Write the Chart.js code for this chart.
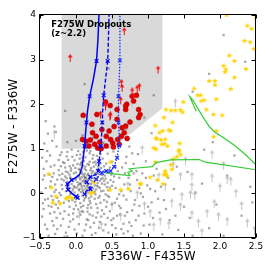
<!DOCTYPE html>
<html>
<head>
<meta charset="utf-8">
<script src="https://cdn.jsdelivr.net/npm/chart.js@4.4.0/dist/chart.umd.min.js"></script>
<style>
  html, body { margin: 0; padding: 0; background: #fff; }
</style>
</head>
<body>
<canvas id="cmd" width="274" height="274"></canvas>
<script>
// colour-colour diagram, F336W-F435W vs F275W-F336W
const xTicks = [-0.5, 0, 0.5, 1, 1.5, 2, 2.5];
const yTicks = [-1, 0, 1, 2, 3, 4];

// dropout selection box
const boxX = [-0.2, -0.2, 0.5, 1.2, 1.2, -0.2];
const boxY = [4.0, 1.0, 1.0, 1.91, 4.0, 4.0];

// model tracks (x markers where mark = 1)
const solidX = [0.32, 0.305, 0.285, 0.24, 0.19, 0.16, 0.145, 0.13, 0.12, 0.10, 0.085, 0.05, 0.01, -0.06, -0.12, -0.11, -0.06, 0.0, 0.02];
const solidY = [4.05, 3.45, 2.97, 2.55, 2.18, 1.85, 1.59, 1.3, 1.06, 0.8, 0.6, 0.42, 0.37, 0.3, 0.21, 0.08, 0.0, -0.07, -0.1];
const solidMark = [0, 0, 1, 0, 1, 0, 1, 0, 1, 0, 0, 0, 0, 1, 1, 1, 0, 1, 1];

const dashX = [0.46, 0.45, 0.44, 0.41, 0.385, 0.37, 0.365, 0.355, 0.345, 0.33, 0.32, 0.31, 0.27, 0.2, 0.15, 0.19, 0.2, 0.14, 0.12];
const dashY = [4.05, 3.45, 2.97, 2.55, 2.2, 1.85, 1.59, 1.3, 1.06, 0.85, 0.72, 0.5, 0.42, 0.37, 0.25, 0.18, 0.1, 0.05, -0.02];
const dashMark = [0, 0, 1, 0, 1, 0, 1, 0, 1, 0, 1, 1, 0, 1, 1, 0, 1, 0, 1];

const dotX = [0.61, 0.61, 0.61, 0.6, 0.59, 0.59, 0.59, 0.6, 0.6, 0.58, 0.57, 0.53, 0.48, 0.42, 0.36, 0.32, 0.28, 0.25];
const dotY = [4.05, 3.45, 2.98, 2.55, 2.18, 1.85, 1.59, 1.3, 1.07, 0.9, 0.8, 0.6, 0.5, 0.5, 0.46, 0.4, 0.32, 0.25];
const dotMark = [0, 0, 1, 0, 1, 0, 1, 0, 1, 0, 1, 1, 1, 1, 1, 0, 1, 0];

const greenAX = [1.67, 1.58, 1.62, 1.75, 1.85, 1.93, 2.05, 2.2, 2.36, 2.5];
const greenAY = [1.84, 2.17, 2.1, 1.75, 1.5, 1.37, 1.25, 1.08, 0.86, 0.64];
const greenBX = [0.41, 0.62, 0.75, 0.72, 0.78, 0.74, 0.85, 1.06, 1.11, 1.31, 1.71, 1.8, 2.5];
const greenBY = [0.46, 0.42, 0.40, 0.47, 0.50, 0.55, 0.57, 0.6, 0.69, 0.75, 0.76, 0.7, 0.53];

// field galaxies
const grayPts = [
  [0.05,0.21],[0.12,0.34],[-0.03,0.45],[0.18,0.08],[0.22,0.27],[-0.08,0.12],[0.09,-0.05],[0.31,0.15],[0.14,0.52],[-0.15,0.38],
  [0.02,0.66],[0.27,0.41],[0.36,0.22],[-0.11,-0.08],[0.07,0.03],[0.19,-0.17],[0.41,0.33],[-0.2,0.19],[0.11,0.73],[0.25,0.6],
  [0.33,-0.06],[-0.05,0.29],[0.16,0.19],[0.04,0.4],[-0.24,0.52],[0.29,0.84],[0.08,0.58],[-0.17,-0.21],[0.45,0.07],[0.21,-0.32],
  [-0.01,-0.19],[0.38,0.49],[0.13,0.11],[-0.09,0.61],[0.24,0.02],[0.06,0.87],[-0.28,0.08],[0.34,0.67],[0.17,0.44],[-0.13,0.83],
  [0.01,0.13],[0.28,-0.24],[0.47,0.58],[-0.21,-0.04],[0.1,-0.28],[0.2,0.95],[-0.06,0.98],[0.39,-0.15],[0.15,0.3],[-0.26,0.31],
  [0.52,0.26],[0.03,-0.36],[0.23,0.5],[-0.14,0.05],[0.09,0.27],[0.3,0.36],[-0.02,0.74],[0.44,0.89],[0.12,-0.11],[-0.32,-0.15],
  [0.18,0.64],[0.35,0.05],[-0.07,0.51],[0.26,0.18],[0.0,0.33],[0.42,-0.3],[-0.18,0.7],[0.14,1.02],[0.07,0.46],[0.32,0.97],
  [-0.1,0.22],[0.49,0.42],[0.21,-0.07],[-0.25,-0.33],[0.05,0.1],[0.37,0.78],[-0.04,-0.45],[0.55,0.12],[0.16,-0.41],[-0.3,0.63],
  [0.11,0.17],[0.27,0.71],[0.04,0.55],[-0.19,0.44],[0.4,0.2],[0.08,0.36],[0.23,-0.5],[-0.12,0.93],[0.58,0.5],[0.19,0.39],
  [-0.35,0.27],[0.01,-0.07],[0.33,0.28],[0.13,0.81],[-0.08,0.36],[0.46,-0.08],[0.25,1.1],[-0.22,0.86],[0.06,-0.22],[0.29,0.53],
  [0.15,0.07],[-0.03,0.16],[0.36,-0.38],[0.1,0.62],[-0.16,-0.4],[0.5,0.71],[0.22,0.14],[-0.27,1.05],[0.03,0.95],[0.43,0.14],
  [0.17,-0.26],[-0.09,-0.3],[0.31,0.44],[0.12,0.24],[-0.01,0.57],[0.6,-0.02],[0.26,-0.12],[-0.2,0.32],[0.08,0.15],[0.39,0.61],
  [0.2,0.31],[-0.13,0.15],[0.05,0.78],[0.34,-0.21],[-0.06,0.04],[0.48,0.3],[0.14,-0.02],[-0.31,0.45],[0.24,0.86],[0.09,0.43],
  [0.18,0.22],[0.02,0.25],[0.28,0.09],[-0.11,0.47],[0.13,0.37],[0.06,0.31],[0.21,0.57],[-0.04,0.09],[0.11,-0.16],[0.3,0.23],
  [0.16,0.66],[-0.15,0.58],[0.37,0.34],[0.0,-0.27],[0.25,0.34],[0.07,0.68],[-0.23,0.01],[0.42,0.48],[0.19,0.12],[0.1,0.05],
  [0.03,0.18],[0.16,0.41],[-0.07,0.33],[0.24,0.11],[0.11,0.29],[-0.02,0.02],[0.29,0.31],[0.08,0.49],[0.19,0.71],[-0.12,0.26],
  [0.35,0.57],[0.04,-0.12],[0.22,0.37],[-0.19,0.1],[0.13,0.6],[0.31,-0.1],[0.06,0.23],[-0.04,0.63],[0.4,0.4],[0.17,0.02],
  [0.26,0.46],[-0.1,-0.17],[0.1,0.93],[0.44,0.24],[-0.16,0.68],[0.02,0.38],[0.33,0.12],[0.2,-0.22],[-0.05,0.82],[0.15,0.16],
  [0.5,0.17],[-0.23,0.41],[0.07,-0.31],[0.28,0.65],[0.12,0.44],[-0.08,-0.02],[0.36,0.41],[0.23,0.78],[-0.29,0.2],[0.05,0.52],
  [0.18,0.33],[0.42,0.67],[-0.14,0.49],[0.09,0.09],[0.3,-0.33],[0.01,0.86],[0.25,0.25],[-0.21,0.61],[0.14,-0.08],[0.38,0.06],
  [0.11,0.39],[-0.06,0.21],[0.2,0.52],[0.46,0.46],[-0.01,0.31],[0.27,-0.02],[0.08,0.71],[-0.17,0.29],[0.32,0.74],[0.16,-0.33],
  [0.04,0.07],[0.22,0.45],[-0.11,0.75],[0.35,0.32],[0.13,0.26],[-0.03,-0.35],[0.53,0.38],[0.19,0.9],[-0.26,-0.1],[0.07,0.2],
  [0.29,0.17],[0.1,-0.41],[-0.09,0.42],[0.41,-0.02],[0.24,0.69],[0.0,0.47],[0.17,0.13],[-0.2,0.92],[0.34,0.88],[0.06,0.64],
  [0.14,0.34],[0.26,0.04],[-0.13,0.34],[0.09,0.8],[0.39,0.28],[0.03,-0.03],[0.21,0.21],[-0.07,0.56],[0.47,0.13],[0.12,0.55],
  [-0.33,0.37],[0.18,-0.11],[0.31,0.6],[0.05,0.35],[-0.24,0.75],[0.28,0.43],[0.15,0.96],[-0.02,0.14],[0.43,-0.19],[0.2,0.05],
  [-0.42,0.12],[-0.38,-0.28],[-0.45,0.55],[-0.36,0.85],[-0.47,-0.52],[-0.4,-0.8],[-0.33,-0.62],[-0.29,-0.91],[-0.44,1.12],[-0.39,1.34],
  [-0.46,0.31],[-0.34,-0.06],[-0.27,-0.55],[-0.21,-0.72],[-0.14,-0.88],[-0.08,-0.63],[-0.02,-0.81],[0.04,-0.69],[0.09,-0.95],[0.15,-0.58],
  [0.2,-0.76],[0.27,-0.89],[0.33,-0.64],[0.38,-0.83],[0.44,-0.55],[0.5,-0.71],[0.56,-0.92],[0.61,-0.47],[0.66,-0.68],[0.72,-0.85],
  [0.78,-0.38],[0.83,-0.6],[0.9,-0.9],[0.95,-0.45],[1.02,-0.7],[0.54,-0.21],[0.62,-0.33],[0.7,-0.14],[0.76,0.05],[0.81,-0.25],
  [0.88,0.12],[0.93,-0.08],[0.67,0.2],[0.73,0.35],[0.85,0.3],[0.64,0.58],[0.7,0.82],[0.8,0.66],[0.92,0.45],[0.99,0.18],
  [1.05,-0.2],[1.1,0.05],[1.16,-0.43],[1.22,-0.15],[1.3,-0.6],[1.36,0.1],[1.42,-0.82],[1.5,-0.3],[1.58,-0.55],[1.66,0.02],
  [-0.3,-0.42],[-0.24,-0.18],[-0.18,-0.57],[-0.1,-0.48],[-0.05,-0.15],[0.02,-0.52],[0.08,-0.4],[0.14,-0.7],[0.19,-0.47],[0.25,-0.66],
  [0.3,-0.43],[0.35,-0.52],[0.41,-0.7],[0.47,-0.4],[0.52,-0.56],[0.57,-0.12],[0.63,-0.8],[0.68,-0.5],[0.74,-0.65],[0.79,-0.95],
  [-0.41,0.72],[-0.37,0.42],[-0.33,1.18],[-0.28,1.38],[-0.43,-0.14],[-0.48,0.02],[-0.36,-0.45],[-0.43,-0.7],[-0.26,-0.8],[-0.12,-0.96],
  [0.0,1.18],[0.09,1.3],[-0.12,1.15],[0.24,1.25],[0.38,1.13],[0.52,0.94],[0.56,1.2],[0.74,1.05],[0.86,0.88],[0.97,0.72],
  [-0.45,-0.35],[-0.38,-0.95],[-0.31,-0.72],[-0.22,-0.45],[-0.16,-0.97],[-0.1,-0.75],[-0.04,-0.58],[0.01,-0.9],[0.06,-0.48],[0.12,-0.83],
  [0.17,-0.6],[0.22,-0.93],[0.28,-0.54],[0.32,-0.77],[0.39,-0.46],[0.45,-0.88],[0.49,-0.6],[0.55,-0.78],[0.6,-0.28],[0.66,-0.9],
  [0.71,-0.42],[0.77,-0.73],[0.82,-0.15],[0.87,-0.5],[0.94,-0.72],[1.0,-0.3],[1.07,-0.55],[1.14,-0.12],[1.25,-0.35],[1.38,-0.5],
  [-0.47,0.8],[-0.4,0.95],[-0.35,0.6],[-0.44,0.4],[-0.39,-0.12],[-0.46,-0.22],[-0.34,-0.3],[-0.28,-0.25],[-0.3,0.03],[-0.36,0.15],
  [0.55,0.6],[0.6,0.35],[0.63,0.05],[0.68,0.45],[0.58,0.8],[0.66,-0.05],[0.75,0.2],[0.8,0.45],[0.69,0.68],[0.9,0.0],
  [0.97,0.35],[1.03,0.1],[0.84,0.5],[0.78,0.9],[1.08,0.4],[1.18,0.15],[0.88,-0.28],[0.57,-0.5],[0.5,-0.25],[0.44,-0.05],
  [1.12,0.55],[1.28,0.35],[1.4,0.6],[1.55,0.48],[1.75,0.22],[1.95,-0.25],[2.1,0.4],[2.3,-0.5],[2.42,0.15],[1.85,-0.78],
  [2.05,-0.95],[1.2,-0.92],[1.62,-0.95],[2.2,0.85],[1.9,1.15],[2.35,2.95],[1.62,2.28],[1.08,2.2],[0.45,2.8],[0.12,2.45],
  [-0.3,1.5],[-0.42,1.62],[0.7,1.45],[1.05,1.35],[1.85,2.68],[2.05,3.55],[0.95,1.7],[-0.15,1.85],[1.78,0.98],[2.45,-0.2]
];

// field galaxies undetected in F275W (lower limits)
const grayLim = [
  [0.92,0.91],[1.89,0.8],[1.45,0.31],[1.61,0.31],[1.89,0.27],[2.1,0.23],[2.15,0.2],[1.24,0.08],[1.47,-0.14],[1.59,-0.1],
  [1.65,-0.12],[1.33,-0.29],[1.45,-0.37],[1.61,-0.55],[1.7,-0.74],[1.82,-0.52],[1.98,-0.59],[2.1,-0.7],[2.38,-0.74],[2.22,-0.07],
  [1.61,0.08],[1.17,-0.7],[1.29,-0.78],[1.08,-0.82],[1.03,-0.52],[0.95,-0.35],[0.85,-0.1],[0.72,0.1],[1.15,0.3],[1.35,0.55],
  [2.0,0.05],[2.3,-0.35],[0.62,-0.6],[0.5,-0.35],[0.35,-0.8],[2.48,-0.9],[1.75,-0.95],[1.92,-0.3],[2.05,0.55],[0.78,1.95],
  [0.25,1.45],[-0.3,1.25],[1.38,1.95],[0.05,-0.55],[1.52,0.65]
];

// F275W dropouts
const dropPts = [
  [0.475,1.97],[0.705,2.0],[0.69,1.88],[0.53,1.5],[0.23,1.36],[0.28,1.28],[0.09,1.21],[0.14,1.17],[0.18,1.06],[0.26,1.1],
  [0.33,1.15],[0.48,1.21],[0.51,1.13],[0.63,1.28],[0.58,1.21],[0.42,1.06],[0.69,1.51],[0.67,1.36],[0.42,1.28],[0.36,1.43],
  [0.41,2.05],[0.29,1.77],[0.69,1.96],[0.57,1.88],[0.78,2.18],[0.84,2.2],[0.8,2.07],[0.57,1.66],[0.1,1.75],[0.87,1.88],
  [0.89,1.77],[0.87,1.7],[0.64,1.47],[0.2,1.2],[0.3,1.02],[0.52,1.04],[0.6,1.1],[0.71,1.23],[0.46,1.4],[0.22,1.55],
  [0.75,1.6],[0.35,1.0]
];
const dropLim = [
  [0.67,3.57],[-0.08,2.97],[1.14,2.71],[0.63,2.41],[0.64,2.3],[0.88,2.32],[0.41,1.88],[0.47,1.66],[0.34,1.7],[0.78,2.22],
  [0.85,2.28],[0.8,2.1],[0.41,1.92],[0.48,1.68],[0.62,2.02]
];

// stars
const starPts = [
  [2.5,3.93],[2.38,3.76],[2.44,3.69],[2.34,3.42],[2.42,3.39],[2.47,3.24],[2.09,4.0],[2.13,3.09],[2.2,2.97],[2.05,2.86],
  [2.08,2.78],[2.07,2.72],[2.36,2.79],[2.2,2.6],[1.85,2.52],[1.93,2.52],[1.93,2.43],[1.64,2.35],[2.15,2.34],[1.73,2.2],
  [1.69,2.2],[1.49,2.05],[1.95,2.11],[1.74,2.07],[1.78,2.09],[1.91,1.77],[2.03,1.75],[1.81,1.88],
  [1.25,1.88],[1.32,1.86],[1.38,1.86],[1.45,1.87],[1.48,1.82],[1.22,1.7],[1.1,1.52],[1.29,1.42],[1.16,1.36],[1.2,1.4],
  [1.31,1.4],[1.34,1.59],[1.24,1.21],[1.12,1.22],[1.18,1.2],[1.11,1.24],[1.23,1.11],[1.44,1.12],[1.27,1.06],[1.08,1.02],
  [1.11,0.99],[1.43,0.97],[1.45,0.87],[1.4,0.82],[1.35,0.77],[1.91,1.27],[1.95,1.4],[1.43,0.94],
  [1.32,0.64],[1.33,0.54],[1.25,0.44],[1.26,0.39],[1.03,0.36],[1.13,0.3],[1.21,0.21],[0.89,0.21],[1.22,0.42],[1.19,1.1],
  [1.1,0.7],[1.24,0.5],[0.48,0.7],[0.47,0.08],[0.62,0.08],[0.73,0.1],[0.9,0.22],[0.25,0.25],[0.2,0.0],[0.23,0.02],
  [-0.38,0.43],[-0.34,0.13],[-0.28,-0.07],[-0.32,-0.21],[-0.22,-0.23],[-0.12,-0.1],[-0.09,-0.08],[-0.05,-0.11],[-0.14,-0.12]
];

function pairs(arr) {
  return arr.map(p => ({ x: p[0], y: p[1] }));
}
function zip(xs, ys) {
  return xs.map((v, i) => ({ x: v, y: ys[i] }));
}

// upward arrow used as point style for limits
function makeArrow(color, h) {
  const c = document.createElement('canvas');
  c.width = 7; c.height = h * 2;
  const g = c.getContext('2d');
  g.strokeStyle = color; g.fillStyle = color; g.lineWidth = 1;
  g.beginPath(); g.moveTo(3.5, h + 1); g.lineTo(3.5, 2.5); g.stroke();
  g.beginPath(); g.moveTo(3.5, 0); g.lineTo(1.2, 3.6); g.lineTo(5.8, 3.6); g.closePath(); g.fill();
  return c;
}

function makeStar(color, r) {
  const s = Math.ceil(r * 2) + 2;
  const c = document.createElement('canvas');
  c.width = s; c.height = s;
  const g = c.getContext('2d');
  g.fillStyle = color;
  g.beginPath();
  for (let i = 0; i < 10; i++) {
    const a = -Math.PI / 2 + i * Math.PI / 5;
    const rr = i % 2 ? r * 0.45 : r;
    const px = s / 2 + rr * Math.cos(a), py = s / 2 + rr * Math.sin(a);
    if (i === 0) g.moveTo(px, py); else g.lineTo(px, py);
  }
  g.closePath(); g.fill();
  return c;
}

const redArrow = makeArrow('#f01010', 7);
const grayArrow = makeArrow('rgba(175,175,175,0.7)', 8);
const goldStar = makeStar('#ffd200', 2.9);

function track(xs, ys, marks, dash, width, color, order) {
  return {
    data: zip(xs, ys), showLine: true, borderColor: color, borderWidth: width, borderDash: dash,
    tension: 0, pointStyle: 'crossRot', pointBorderColor: color, pointBorderWidth: 1.2,
    pointRadius: marks.map(m => m ? 2.6 : 0), order: order, clip: 0
  };
}

const framePlugin = {
  id: 'frame',
  afterDatasetsDraw(chart) {
    const ctx = chart.ctx;
    const a = chart.chartArea;
    const x = chart.scales.x, y = chart.scales.y;
    const L = Math.round(a.left) - 0.5, R = Math.round(a.right) - 0.5;
    const T = Math.round(a.top) - 0.5, B = Math.round(a.bottom) - 0.5;
    ctx.save();
    ctx.strokeStyle = '#000';
    ctx.lineWidth = 1;
    ctx.beginPath();
    xTicks.forEach(v => {
      const px = Math.round(x.getPixelForValue(v)) + 0.5;
      ctx.moveTo(px, B); ctx.lineTo(px, B - 4);
      ctx.moveTo(px, T); ctx.lineTo(px, T + 4);
    });
    yTicks.forEach(v => {
      const py = Math.round(y.getPixelForValue(v)) + 0.5;
      ctx.moveTo(L, py); ctx.lineTo(L + 4, py);
      ctx.moveTo(R, py); ctx.lineTo(R - 4, py);
    });
    ctx.stroke();
    ctx.strokeRect(L, T, R - L, B - T);

    ctx.fillStyle = '#000';
    ctx.font = 'bold 8.5px "DejaVu Sans"';
    ctx.textBaseline = 'alphabetic';
    ctx.fillText('F275W Dropouts', x.getPixelForValue(-0.345), y.getPixelForValue(3.73));
    ctx.fillText('(z~2.2)', x.getPixelForValue(-0.345), y.getPixelForValue(3.53));
    ctx.restore();
  }
};

Chart.defaults.font.family = '"DejaVu Sans", sans-serif';
Chart.defaults.color = '#000';

new Chart(document.getElementById('cmd'), {
  type: 'scatter',
  data: {
    datasets: [
      { data: zip(boxX, boxY), showLine: true, fill: 'shape', backgroundColor: '#d9d9d9',
        borderWidth: 0, pointRadius: 0, order: 20, clip: 0 },
      { data: pairs(grayPts), pointStyle: 'rect', pointRadius: 1.6, borderWidth: 0,
        backgroundColor: 'rgba(80,80,80,0.5)', order: 19, clip: 0 },
      { data: pairs(grayLim), pointStyle: grayArrow, order: 18, clip: 0 },
      { data: pairs(starPts), pointStyle: goldStar, order: 17, clip: 0 },
      { data: pairs(dropPts), pointStyle: 'circle', pointRadius: 2.5, backgroundColor: '#e00000',
        borderColor: '#b00000', borderWidth: 0.5, order: 16, clip: 0 },
      { data: pairs(dropLim), pointStyle: redArrow, order: 15, clip: 0 },
      { data: zip(greenAX, greenAY), showLine: true, borderColor: '#33cc33', borderWidth: 1.2,
        pointRadius: 0, order: 14, clip: 0 },
      { data: zip(greenBX, greenBY), showLine: true, borderColor: '#33cc33', borderWidth: 1.2,
        pointRadius: 0, order: 13, clip: 0 },
      track(dotX, dotY, dotMark, [1.5, 1.5], 1.3, '#1a2cff', 12),
      track(dashX, dashY, dashMark, [4, 2], 1.4, '#0000ff', 11),
      track(solidX, solidY, solidMark, [], 1.5, '#0000ff', 10)
    ]
  },
  options: {
    responsive: false,
    animation: false,
    layout: { padding: { top: 15, right: 18, left: 0, bottom: 0 } },
    plugins: { legend: { display: false }, tooltip: { enabled: false } },
    scales: {
      x: {
        type: 'linear', min: -0.5, max: 2.5,
        grid: { display: false, drawTicks: false }, border: { display: false },
        ticks: { stepSize: 0.5, padding: 3, autoSkip: false, maxRotation: 0, font: { size: 9 },
          callback: v => v.toFixed(1).replace('-', '\u2212') },
        title: { display: true, text: 'F336W - F435W', font: { size: 12 }, padding: { top: 0, bottom: 10 } },
        afterFit: s => { s.height = 36; }
      },
      y: {
        type: 'linear', min: -1, max: 4,
        grid: { display: false, drawTicks: false }, border: { display: false },
        ticks: { stepSize: 1, padding: 4, font: { size: 9 },
          callback: v => String(v).replace('-', '\u2212') },
        title: { display: true, text: 'F275W - F336W', font: { size: 12 }, padding: { top: 7, bottom: 0 } },
        afterFit: s => { s.width = 40; }
      }
    }
  },
  plugins: [framePlugin]
});
</script>
</body>
</html>
